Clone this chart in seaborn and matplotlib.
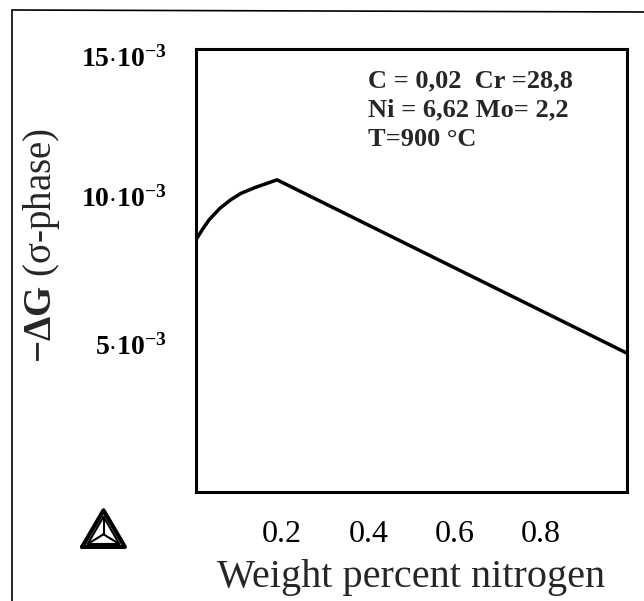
import matplotlib
matplotlib.use("Agg")
import matplotlib.pyplot as plt
import matplotlib.transforms as mtransforms
import seaborn as sns
import pandas as pd
from matplotlib.lines import Line2D

# values
nitrogen = [0.0, 0.014, 0.030, 0.055, 0.080, 0.104, 0.137, 0.188, 1.0]
delta_g = [8.54e-3, 8.87e-3, 9.21e-3, 9.60e-3, 9.89e-3, 10.11e-3, 10.31e-3, 10.57e-3, 4.70e-3]
x_ticks = [0.2, 0.4, 0.6, 0.8]
y_ticks = [5e-3, 10e-3, 15e-3]
y_tick_labels = [r"$\mathbf{5{\cdot}10^{-3}}$", r"$\mathbf{10{\cdot}10^{-3}}$",
                 r"$\mathbf{15{\cdot}10^{-3}}$"]
note_lines = ["C = 0,02  Cr =28,8", "Ni = 6,62 Mo= 2,2", "T=900 °C"]

df = pd.DataFrame({"N": nitrogen, "dG": delta_g})

sns.set_style("white")
plt.rcParams["font.family"] = ["Liberation Serif", "DejaVu Serif"]
plt.rcParams["mathtext.fontset"] = "custom"
plt.rcParams["mathtext.rm"] = "Liberation Serif"
plt.rcParams["mathtext.bf"] = "Liberation Serif:bold"
plt.rcParams["mathtext.it"] = "Liberation Serif:italic"

fig = plt.figure(figsize=(6.44, 6.01), dpi=100)
ax = fig.add_axes([196 / 644, 1 - 492 / 601, 431 / 644, 443 / 601])

sns.lineplot(data=df, x="N", y="dG", sort=False, estimator=None,
             color="black", linewidth=2.5, ax=ax)

ax.set_xlim(0, 1.0)
ax.set_ylim(0, 15e-3)
ax.set_xticks(x_ticks)
ax.set_xticklabels([str(v) for v in x_ticks], fontsize=23)
ax.set_yticks(y_ticks)
ax.set_yticklabels(y_tick_labels, fontsize=20)
ax.tick_params(axis="x", direction="out", length=9, width=2.2, pad=11, colors="black")
ax.tick_params(axis="y", direction="out", length=9, width=2.2, pad=12, colors="black")
ax.yaxis.get_major_ticks()[-1].tick1line.set_visible(False)
# top label sits a little below the corner in the original
top_lab = ax.get_yticklabels()[-1]
top_lab.set_transform(top_lab.get_transform() +
                      mtransforms.ScaledTranslation(0, -7 / 100, fig.dpi_scale_trans))
for s in ax.spines.values():
    s.set_linewidth(2.2)
    s.set_color("black")

ax.set_xlabel("Weight percent nitrogen", fontsize=29, labelpad=7)
ax.set_ylabel(r"$\mathbf{-\Delta G}$ (σ-phase)", fontsize=28, labelpad=0)
ax.yaxis.set_label_coords(-134 / 431, 247 / 443)

ax.text(0.398, 0.955, "\n".join(note_lines), transform=ax.transAxes,
        fontsize=19, fontweight="bold", va="top", ha="left", linespacing=1.36)

# outer frame of the page
fig.add_artist(Line2D([12 / 644, 12 / 644], [0, 1 - 10 / 601], color="black", lw=1.2))
fig.add_artist(Line2D([12 / 644, 1], [1 - 10 / 601, 1 - 12 / 601], color="black", lw=1.2))

# logo
lg = fig.add_axes([80 / 644, 1 - 549 / 601, 47 / 644, 42 / 601])
lg.set_xlim(-0.05, 1.05)
lg.set_ylim(-0.05, 0.95)
lg.axis("off")
lg.plot([0, 1, 0.5, 0], [0, 0, 0.87, 0], color="black", lw=3)
lg.plot([0.13, 0.87, 0.5, 0.13], [0.07, 0.07, 0.72, 0.07], color="black", lw=1.5)
lg.plot([0.5, 0.5], [0.3, 0.72], color="black", lw=1.5)
lg.plot([0.5, 0.13], [0.3, 0.07], color="black", lw=1.5)
lg.plot([0.5, 0.87], [0.3, 0.07], color="black", lw=1.5)

fig.savefig("out.png", dpi=100)
